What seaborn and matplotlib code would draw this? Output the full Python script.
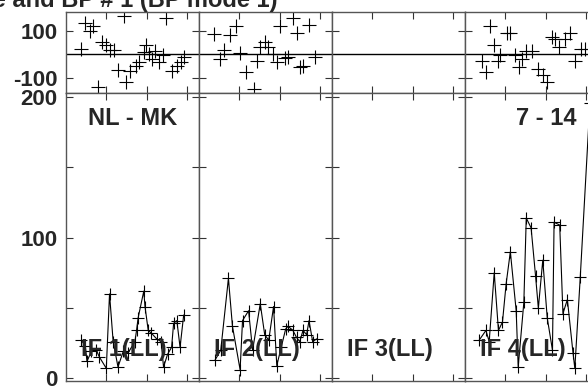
import matplotlib
matplotlib.use("Agg")
import matplotlib.pyplot as plt
import seaborn as sns

# canales y valores (IF 3 sin datos)
ch_ph_1 = [3.75, 4.75, 6.0, 6.7, 7.9, 8.9, 10.0, 10.8, 11.8, 12.9, 14.5, 15.0, 16.0, 17.25,
           18.1, 19.3, 19.9, 20.6, 21.4, 22.1, 23.1, 24.1, 24.9, 26.4, 27.5, 28.5, 29.3]
ph_1 = [25, 136, 101, 122, -139, 54, 39, 20, 20, -65, 165, -120, -70, -48,
        -33, 10, 39, 3, -19, 17, -33, -4, 155, -70, -48, -33, -12]
ch_amp_1 = [3.8, 4.8, 5.2, 6.3, 7.5, 8.3, 10.0, 10.8, 11.7, 12.9, 14.2, 15.4, 17.1, 17.5,
            17.9, 19.3, 19.6, 20.4, 21.2, 22.5, 23.6, 24.2, 25.2, 26.2, 26.7, 27.5, 28.3, 29.2]
amp_1 = [27, 23, 12, 19, 20, 15, 7, 60, 26, 8, 19, 18, 26, 34,
         43, 62, 51, 34, 32, 28, 26, 8, 17, 22, 39, 41, 22, 45]

ch_ph_2 = [3.8, 5.1, 6.2, 7.6, 9.25, 10.1, 11.75, 13.6, 14.4, 15.1, 16.3, 17.2, 18.4,
           19.25, 20.1, 21.3, 22.2, 23.2, 24.25, 25.1, 25.9, 27.3, 28.7]
ph_2 = [87, -19, 20, 83, 122, 6, -77, -149, -26, 32, 54, 32, 3,
        -33, 122, -14, -10, 155, 90, -55, -48, 126, -12]
ch_amp_2 = [4.0, 5.4, 7.3, 8.3, 10.2, 10.8, 12.3, 13.3, 15.2, 16.3, 17.3, 18.5, 19.3,
            20.4, 21.5, 22.1, 23.3, 24.2, 25.0, 25.8, 26.7, 27.3, 28.2, 29.2]
amp_2 = [13, 20, 71, 37, 6, 41, 48, 20, 53, 31, 27, 51, 9,
         22, 35, 37, 34, 29, 26, 34, 31, 41, 26, 28]

ch_ph_3, ph_3, ch_amp_3, amp_3 = [], [], [], []

ch_ph_4 = [4.2, 5.25, 6.25, 7.2, 8.2, 8.8, 10.5, 11.1, 12.5, 13.3, 14.2, 15.25, 16.7,
           18.2, 19.4, 20.25, 21.5, 22.3, 23.4, 24.7, 26.1, 27.3, 28.8, 29.7]
ph_4 = [-26, -77, 122, 39, -26, -4, 93, 90, -4, -55, -19, 17, 17,
        -62, -87, -120, 73, 68, 32, 68, 90, -26, 25, 25]
ch_amp_4 = [3.5, 5.2, 6.0, 7.25, 8.3, 9.3, 10.2, 11.25, 12.7, 13.2, 14.6, 15.2, 16.4,
            17.5, 18.2, 19.3, 20.4, 21.7, 22.1, 23.5, 24.3, 25.4, 26.8, 27.25, 28.6, 31.0]
amp_4 = [27, 34, 26, 75, 34, 40, 67, 90, 48, 8, 54, 114, 107,
         73, 50, 84, 43, 20, 111, 109, 46, 56, 18, 7, 72, 196]

paneles = [(ch_ph_1, ph_1, ch_amp_1, amp_1),
           (ch_ph_2, ph_2, ch_amp_2, amp_2),
           (ch_ph_3, ph_3, ch_amp_3, amp_3),
           (ch_ph_4, ph_4, ch_amp_4, amp_4)]
etiquetas = ["IF 1(LL)", "IF 2(LL)", "IF 3(LL)", "IF 4(LL)"]
titulo = "Phase and BP # 1 (BP mode 1)"

sns.set_style("ticks")
plt.rcParams["font.family"] = ["Liberation Sans", "DejaVu Sans"]
plt.rcParams["font.weight"] = "bold"

W, H = 588, 386
fig = plt.figure(figsize=(W / 100, H / 100), dpi=100)

x0, ancho = 66, 133
y_arr, y_med, y_ab = 12, 93, 381
gris = "#555555"


def estilo(ax):
    for s in ax.spines.values():
        s.set_color(gris)
        s.set_linewidth(1.0)
    ax.tick_params(direction="in", length=5, width=0.8, color="#333333",
                   top=True, right=True, labelsize=16, pad=6)
    ax.set_xlim(0, 33)
    ax.set_xticks([10, 20, 30])
    ax.set_xticklabels([])
    ax.set_xlabel("")
    ax.set_ylabel("")


for i, (cf, f, ca, a) in enumerate(paneles):
    izq = (x0 + ancho * i) / W
    ax_f = fig.add_axes([izq, 1 - y_med / H, ancho / W, (y_med - y_arr) / H])
    ax_a = fig.add_axes([izq, 1 - y_ab / H, ancho / W, (y_ab - y_med) / H])

    if len(f):
        sns.scatterplot(x=cf, y=f, marker="+", s=90, color="k", linewidth=0.8, ax=ax_f)
    ax_f.axhline(0, color="k", lw=1.0)
    ax_f.set_ylim(-165, 182)
    ax_f.set_yticks([-100, 100])

    if len(a):
        sns.lineplot(x=ca, y=a, sort=False, estimator=None, color="k", lw=0.8,
                     marker="+", ms=9, mew=0.8, mec="k", ax=ax_a)
    ax_a.set_ylim(-2, 203)
    ax_a.set_yticks([0, 50, 100, 150, 200])

    estilo(ax_f)
    estilo(ax_a)
    if i == 0:
        ax_f.set_yticklabels(["-100", "100"], fontweight="bold")
        ax_a.set_yticklabels(["0", "", "100", "", "200"], fontweight="bold")
    else:
        ax_f.set_yticklabels([])
        ax_a.set_yticklabels([])

    ax_a.text(0.113, 0.108, etiquetas[i], transform=ax_a.transAxes, fontsize=17,
              fontweight="bold", ha="left", va="center")
    if i == 0:
        ax_a.text(0.504, 0.913, "NL - MK", transform=ax_a.transAxes, fontsize=17,
                  fontweight="bold", ha="center", va="center")
    if i == 3:
        ax_a.text(0.613, 0.913, "7 - 14", transform=ax_a.transAxes, fontsize=17,
                  fontweight="bold", ha="center", va="center")

fig.text(277 / W, 1 - 6.5 / H, titulo, fontsize=17, fontweight="bold",
         ha="right", va="baseline")

fig.savefig("out.png", dpi=100)
